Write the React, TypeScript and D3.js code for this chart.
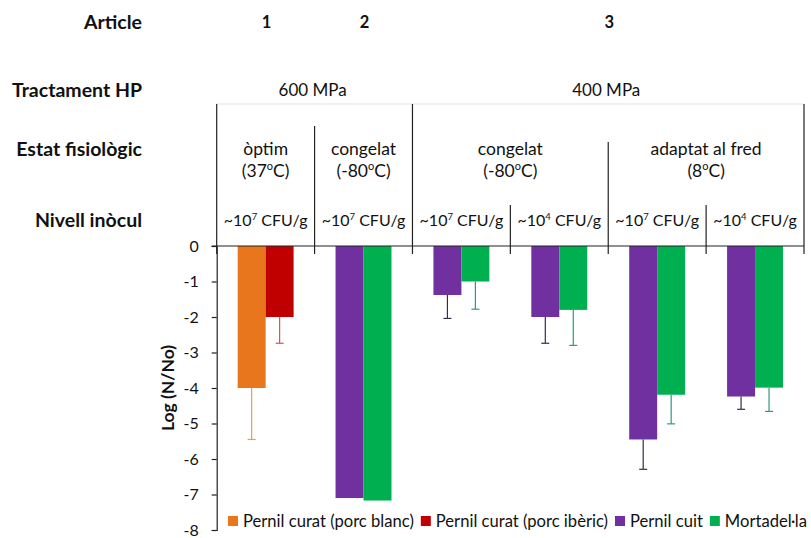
import React, { useEffect, useRef } from "react";
import * as d3 from "d3";

const W = 811;
const H = 538;
const FONT = "Lato, 'Open Sans', sans-serif";

// ---------- data ----------
const categories = ["c1", "c2", "c3", "c4", "c5", "c6"];
const inoculExponents = ["7", "7", "7", "4", "7", "4"];
const yTicks = [0, -1, -2, -3, -4, -5, -6, -7, -8];

const seriesNames = [
  "Pernil curat (porc blanc)",
  "Pernil curat (porc ibèric)",
  "Pernil cuit",
  "Mortadel·la",
];
const seriesColors = ["#E8761C", "#C00000", "#7030A0", "#00B050"];
const errorColors = ["#EE9A55", "#D9505E", "#3B2C4C", "#2A9A80"];
const seriesSlot = [0, 1, 0, 1];

const blancValues = [-4.0, null, null, null, null, null];
const blancErrors = [1.45, null, null, null, null, null];
const ibericValues = [-2.0, null, null, null, null, null];
const ibericErrors = [0.74, null, null, null, null, null];
const cuitValues = [null, -7.1, -1.38, -2.0, -5.45, -4.24];
const cuitErrors = [null, 0, 0.66, 0.74, 0.84, 0.36];
const mortadellaValues = [null, -7.17, -1.0, -1.8, -4.19, -3.99];
const mortadellaErrors = [null, 0, 0.78, 1.0, 0.82, 0.67];

const seriesValues = [blancValues, ibericValues, cuitValues, mortadellaValues];
const seriesErrors = [blancErrors, ibericErrors, cuitErrors, mortadellaErrors];

const rowLabels = ["Article", "Tractament HP", "Estat fisiològic", "Nivell inòcul"];
const articleGroups = [
  { label: "1", start: 0, end: 1 },
  { label: "2", start: 1, end: 2 },
  { label: "3", start: 2, end: 6 },
];
const treatmentGroups = [
  { label: "600 MPa", start: 0, end: 2 },
  { label: "400 MPa", start: 2, end: 6 },
];
const stateGroups = [
  { label: "òptim", temp: "37", start: 0, end: 1 },
  { label: "congelat", temp: "-80", start: 1, end: 2 },
  { label: "congelat", temp: "-80", start: 2, end: 4 },
  { label: "adaptat al fred", temp: "8", start: 4, end: 6 },
];

// ---------- layout ----------
const plotLeft = 216.7;
const plotRight = 804;
const plotTop = 246;
const plotBottom = 530;
const rowBaselines = [29, 97, 156, 227];
const dividerTops = [104, 126, 104, 205, 142, 205, 104];

export default function App() {
  const ref = useRef<SVGSVGElement | null>(null);

  useEffect(() => {
    const svg = d3.select(ref.current);
    svg.selectAll("*").remove();

    const x = d3
      .scaleBand<number>()
      .domain(categories.map((_, i) => i))
      .range([plotLeft, plotRight])
      .paddingInner(0)
      .paddingOuter(0);
    const x1 = d3
      .scaleBand<number>()
      .domain([0, 1])
      .range([0, x.step()])
      .paddingInner(0)
      .paddingOuter(0.75);
    const y = d3.scaleLinear().domain([-8, 0]).range([plotBottom, plotTop]);

    const bx = (i: number) => plotLeft + i * x.step();

    // faint header line
    svg
      .append("line")
      .attr("x1", plotLeft)
      .attr("x2", plotRight)
      .attr("y1", 104)
      .attr("y2", 104)
      .attr("stroke", "#ececec")
      .attr("stroke-width", 1.5);

    // row labels
    rowLabels.forEach((t, i) => {
      svg
        .append("text")
        .attr("x", 142)
        .attr("y", rowBaselines[i])
        .attr("text-anchor", "end")
        .attr("font-family", FONT)
        .attr("font-weight", "bold")
        .attr("font-size", 19.5)
        .attr("fill", "#111")
        .text(t);
    });

    // articles
    articleGroups.forEach((g) => {
      svg
        .append("text")
        .attr("x", (bx(g.start) + bx(g.end)) / 2 + 1)
        .attr("y", 28)
        .attr("text-anchor", "middle")
        .attr("font-family", FONT)
        .attr("font-weight", "bold")
        .attr("font-size", 16.5)
        .attr("fill", "#111")
        .text(g.label);
    });

    // treatments
    treatmentGroups.forEach((g) => {
      svg
        .append("text")
        .attr("x", (bx(g.start) + bx(g.end)) / 2 - 2)
        .attr("y", 96)
        .attr("text-anchor", "middle")
        .attr("font-family", FONT)
        .attr("font-size", 17)
        .attr("fill", "#111")
        .text(g.label);
    });

    // states
    stateGroups.forEach((g) => {
      const cx = (bx(g.start) + bx(g.end)) / 2;
      svg
        .append("text")
        .attr("x", cx)
        .attr("y", 155)
        .attr("text-anchor", "middle")
        .attr("font-family", FONT)
        .attr("font-size", 17.5)
        .attr("fill", "#111")
        .text(g.label);
      const t = svg
        .append("text")
        .attr("x", cx)
        .attr("y", 177)
        .attr("text-anchor", "middle")
        .attr("font-family", FONT)
        .attr("font-size", 17.5)
        .attr("fill", "#111");
      t.append("tspan").text("(" + g.temp);
      t.append("tspan").attr("dy", -7).attr("font-size", 11).text("o");
      t.append("tspan").attr("dy", 7).text("C)");
    });

    // inoculum
    categories.forEach((_, i) => {
      const t = svg
        .append("text")
        .attr("x", (x(i) as number) + x.bandwidth() / 2)
        .attr("y", 226)
        .attr("text-anchor", "middle")
        .attr("font-family", FONT)
        .attr("font-size", 16)
        .attr("fill", "#111");
      t.append("tspan").text("~10");
      t.append("tspan").attr("dy", -6).attr("font-size", 9.5).text(inoculExponents[i]);
      t.append("tspan").attr("dy", 6).text(" CFU/g");
    });

    // dividers
    dividerTops.forEach((top, i) => {
      svg
        .append("line")
        .attr("x1", bx(i))
        .attr("x2", bx(i))
        .attr("y1", top)
        .attr("y2", plotTop + 8)
        .attr("stroke", "#222")
        .attr("stroke-width", 1.2);
    });

    // bars
    seriesValues.forEach((vals, s) => {
      vals.forEach((v, i) => {
        if (v === null) return;
        const bxp = (x(i) as number) + (x1(seriesSlot[s]) as number);
        svg
          .append("rect")
          .attr("x", bxp)
          .attr("y", y(0))
          .attr("width", x1.bandwidth())
          .attr("height", y(v) - y(0))
          .attr("fill", seriesColors[s]);
      });
    });

    // error bars
    seriesValues.forEach((vals, s) => {
      vals.forEach((v, i) => {
        const e = seriesErrors[s][i];
        if (v === null || e === null || e === 0) return;
        const cx = (x(i) as number) + (x1(seriesSlot[s]) as number) + x1.bandwidth() / 2;
        const g = svg.append("g").attr("stroke", errorColors[s]).attr("stroke-width", 1.2);
        g.append("line").attr("x1", cx).attr("x2", cx).attr("y1", y(v)).attr("y2", y(v - e));
        g.append("line")
          .attr("x1", cx - 4)
          .attr("x2", cx + 4)
          .attr("y1", y(v - e))
          .attr("y2", y(v - e));
      });
    });

    // zero axis
    svg
      .append("line")
      .attr("x1", plotLeft - 5)
      .attr("x2", plotRight)
      .attr("y1", y(0))
      .attr("y2", y(0))
      .attr("stroke", "#222")
      .attr("stroke-width", 1.2);

    // y axis
    const yAxis = d3.axisLeft(y).tickValues(yTicks).tickSize(5).tickPadding(13).tickFormat(d3.format("d"));
    const ya = svg.append("g").attr("transform", `translate(${plotLeft},0)`).call(yAxis);
    ya.select(".domain").attr("stroke", "#222").attr("stroke-width", 1.2);
    ya.selectAll(".tick line").attr("stroke", "#222").attr("stroke-width", 1.2);
    ya.selectAll(".tick text")
      .attr("font-family", FONT)
      .attr("font-size", 16)
      .attr("fill", "#111")
      .text((d: any) => (d === 0 ? "0" : String(d)));

    // y axis title
    svg
      .append("text")
      .attr("transform", `translate(174,388) rotate(-90)`)
      .attr("text-anchor", "middle")
      .attr("font-family", FONT)
      .attr("font-weight", "bold")
      .attr("font-size", 17.5)
      .attr("fill", "#111")
      .text("Log (N/No)");

    // legend
    let lx = 228;
    seriesNames.forEach((name, s) => {
      svg
        .append("rect")
        .attr("x", lx)
        .attr("y", 516)
        .attr("width", 10)
        .attr("height", 10)
        .attr("fill", seriesColors[s]);
      const t = svg
        .append("text")
        .attr("x", lx + 15)
        .attr("y", 527)
        .attr("font-family", FONT)
        .attr("font-size", 16.6)
        .attr("fill", "#111")
        .text(name);
      const w = (t.node() as SVGTextElement).getComputedTextLength();
      lx = lx + 15 + w + 7;
    });
  }, []);

  return (
    <svg
      ref={ref}
      width={W}
      height={H}
      style={{ position: "absolute", left: 0, top: 0, background: "#fff" }}
    />
  );
}
